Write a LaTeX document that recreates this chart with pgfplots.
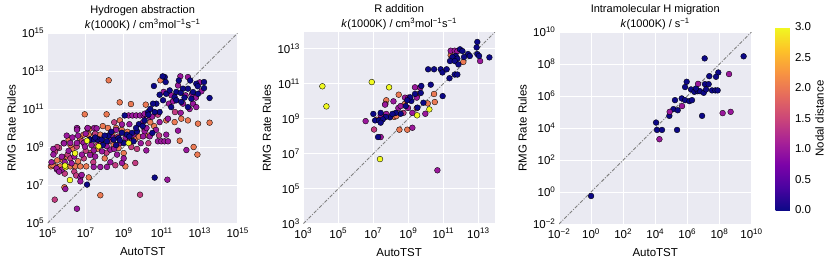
\documentclass[border=0pt]{standalone}
\usepackage{fontspec}
\setmainfont{Liberation Sans}
\usepackage{pgfplots}
\pgfplotsset{compat=1.18}
\definecolor{bg}{HTML}{EAEAF2}
\pgfplotsset{
  colormap={plasma}{rgb255=(13,8,135) rgb255=(75,3,161) rgb255=(125,3,168) rgb255=(168,34,150) rgb255=(203,70,121) rgb255=(229,107,93) rgb255=(248,148,65) rgb255=(253,195,40) rgb255=(240,249,33)},
  rmg/.style={
    scale only axis, anchor=south west,
    axis background/.style={fill=bg},
    grid=major, grid style={white, line width=1pt},
    axis line style={draw=none}, tick style={draw=none},
    every tick label/.append style={font=\fontsize{11.5}{13}\selectfont},
    xticklabel style={yshift=-1pt},
    title style={font=\fontsize{11}{15.5}\selectfont, align=center, at={(axis description cs:0.5,1)}, anchor=center, yshift=9pt},
    xlabel=AutoTST, ylabel=RMG Rate Rules,
    every axis y label/.style={at={(axis description cs:-0.19,0.5)}, rotate=90, anchor=center, font=\fontsize{11.5}{13}\selectfont},
    every axis x label/.style={at={(axis description cs:0.5,-0.15)}, anchor=center, font=\fontsize{11.5}{13}\selectfont},
    colormap name=plasma, point meta min=0, point meta max=3,
  },
  diag/.style={color=black!50, line width=0.9pt, dash pattern=on 3.5pt off 1.5pt on 1pt off 1.5pt, forget plot},
  pts/.style={scatter, only marks, mark=*, mark size=2.9pt, line width=0.35pt, point meta=explicit, scatter/use mapped color={draw=black, fill=mapped color}},
}
\begin{document}
\begin{tikzpicture}
% ---------------- Panel 1 ----------------
\begin{axis}[rmg, at={(47.7pt,40pt)}, width=190pt, height=190pt,
  xmin=5, xmax=15, ymin=5, ymax=15,
  xtick={5,7,...,15}, ytick={5,7,...,15},
  xticklabels={10\textsuperscript{5},10\textsuperscript{7},10\textsuperscript{9},10\textsuperscript{11},10\textsuperscript{13},10\textsuperscript{15}},
  yticklabels={10\textsuperscript{5},10\textsuperscript{7},10\textsuperscript{9},10\textsuperscript{11},10\textsuperscript{13},10\textsuperscript{15}},
  title={Hydrogen abstraction\\\textit{k}(1000K) / cm\textsuperscript{3}mol\textsuperscript{−1}s\textsuperscript{−1}}]
\addplot[diag] coordinates {(5,5) (15,15)};
\addplot[pts] table[meta=c] {
x y c
8.21 12.51 2
8.79 11.35 2
9.38 11.26 2
6.95 10.72 2
8.10 10.72 2
8.17 10.00 2
8.60 10.00 2
10.93 12.51 2
10.16 11.23 2
11.24 10.40 2
11.68 10.31 2
12.03 10.49 2
12.38 10.40 2
12.91 10.23 2
13.52 10.28 2
11.95 9.33 2
12.68 9.00 2
12.88 8.60 2
5.17 7.98 2
5.40 7.98 2
5.66 7.98 2
5.93 7.98 2
6.19 7.98 2
6.45 7.98 2
6.72 7.98 2
7.03 7.98 2
6.89 9.65 2
7.15 9.65 2
7.45 9.65 2
7.77 9.65 2
7.77 9.21 2
8.47 9.12 2
8.73 8.95 2
9.00 8.68 2
9.09 7.98 2
7.16 7.40 2
5.88 6.88 2
7.77 6.46 2
6.30 8.90 2
6.70 9.45 2
8.30 9.70 2
8.90 9.90 2
9.60 9.40 2
10.30 9.60 2
7.30 8.70 2
6.00 8.50 2
5.50 8.30 2
8.00 8.40 2
9.20 9.80 2
10.60 10.10 2
7.90 10.10 2
6.20 9.10 2
5.25 8.05 2
5.80 8.30 2
6.60 8.25 2
7.60 8.90 2
8.40 9.70 2
9.80 9.55 2
10.40 10.30 2
6.10 9.40 2
7.20 9.95 2
8.80 10.40 2
5.84 9.21 1.4
5.39 8.75 1.4
6.53 9.02 1.4
7.09 9.98 1.4
6.56 9.98 1.4
9.61 8.16 1.4
8.56 8.04 1.4
10.86 9.61 1.4
10.80 10.70 1.4
5.37 6.23 1.4
9.86 6.49 1.4
6.05 8.60 1.4
6.90 8.40 1.4
7.60 9.10 1.4
8.20 9.30 1.4
8.70 9.55 1.4
9.40 9.00 1.4
10.10 9.90 1.4
7.40 8.20 1.4
6.40 7.70 1.4
11.70 10.84 1.4
8.50 10.30 1.4
5.60 8.95 1.4
7.00 8.80 1.4
6.50 7.50 1.4
5.50 9.00 1.4
6.20 8.40 1.4
6.80 9.30 1.4
7.50 9.70 1.4
8.10 8.70 1.4
9.20 9.40 1.4
9.70 8.90 1.4
10.30 9.20 1.4
5.90 7.60 1.4
6.54 10.00 1
7.10 10.00 1
7.45 10.00 1
8.91 10.19 1
9.26 10.66 1
9.46 10.66 1
9.66 10.66 1
9.86 10.66 1
10.05 10.66 1
11.98 12.72 1
12.38 12.68 1
13.09 11.93 1
11.86 12.24 1
11.51 11.72 1
12.26 11.72 1
12.12 11.28 1
12.65 11.28 1
12.82 11.10 1
12.47 11.00 1
11.38 11.28 1
10.10 10.75 1
10.37 10.58 1
11.33 10.49 1
10.89 10.31 1
10.02 10.31 1
6.54 9.91 1
6.19 9.21 1
6.54 9.21 1
6.89 9.21 1
7.42 8.82 1
7.86 8.77 1
8.30 8.86 1
8.65 8.60 1
8.91 8.16 1
5.49 7.81 1
5.75 7.81 1
7.42 7.95 1
7.77 7.95 1
8.12 7.95 1
6.72 7.40 1
6.72 7.19 1
5.93 6.79 1
6.54 5.75 1
10.10 9.82 1
10.02 9.56 1
10.37 9.56 1
11.24 9.65 1
11.86 9.86 1
10.80 9.30 1
10.98 9.30 1
11.15 9.30 1
11.33 9.30 1
10.19 8.82 1
12.30 8.84 1
11.30 7.28 1
5.86 9.19 1
5.74 8.49 1
5.47 7.88 1
6.26 8.14 1
6.96 9.02 1
7.58 9.98 1
7.23 8.58 1
6.79 7.53 1
5.30 8.60 1
5.20 8.20 1
6.10 8.80 1
6.80 8.60 1
7.20 9.40 1
7.70 9.40 1
8.10 9.05 1
8.40 9.50 1
8.80 9.20 1
9.10 9.50 1
9.50 9.65 1
9.90 9.20 1
10.20 10.00 1
6.30 9.50 1
7.00 9.70 1
8.60 9.90 1
9.30 10.20 1
12.00 10.80 1
12.60 11.80 1
11.10 11.90 1
13.00 12.40 1
5.60 7.70 1
8.30 8.20 1
9.00 8.40 1
7.50 8.50 1
6.00 9.60 1
5.30 8.90 1
5.90 8.20 1
6.40 8.50 1
6.60 9.60 1
7.30 9.10 1
7.80 9.30 1
8.50 8.90 1
9.40 9.30 1
10.50 10.60 1
10.70 9.90 1
11.60 11.40 1
12.80 11.60 1
9.05 10.66 0
11.16 12.68 0
10.59 12.21 0
11.21 12.42 0
13.23 12.42 0
12.82 12.33 0
10.89 11.75 0
11.24 11.80 0
11.42 11.98 0
11.77 11.90 0
12.12 12.07 0
12.38 12.07 0
12.65 11.89 0
12.91 11.80 0
13.23 12.10 0
13.52 11.58 0
11.68 11.63 0
11.07 11.46 0
10.72 11.28 0
10.54 11.28 0
11.77 11.46 0
12.03 11.37 0
12.56 11.54 0
12.38 11.10 0
10.89 10.84 0
10.63 10.84 0
10.28 10.84 0
11.05 12.72 0
7.24 9.39 0
7.44 9.39 0
7.64 9.39 0
7.84 9.39 0
8.12 9.30 0
8.47 9.39 0
8.73 9.47 0
9.00 9.21 0
9.17 9.65 0
9.44 9.74 0
9.70 9.82 0
9.52 9.30 0
10.51 9.74 0
7.07 7.02 0
10.63 7.39 0
8.20 9.60 0
8.90 9.75 0
9.80 10.20 0
10.10 10.40 0
8.60 9.10 0
9.30 9.55 0
10.40 11.00 0
11.50 11.10 0
12.20 11.60 0
12.90 12.20 0
11.90 12.50 0
7.90 9.10 0
7.50 9.50 0
8.00 9.60 0
8.35 9.80 0
8.80 9.35 0
9.65 10.00 0
10.00 10.10 0
10.30 10.70 0
12.50 12.50 0
12.00 11.85 0
7.07 9.33 3
7.68 9.04 3
9.26 9.21 3
6.44 8.67 3
5.93 7.93 3
6.17 7.26 3
5.91 8.02 3
};
\end{axis}
% ---------------- Panel 2 ----------------
\begin{axis}[rmg, at={(303.3pt,39.3pt)}, width=191.7pt, height=191.7pt,
  xmin=3, xmax=13.95, ymin=3, ymax=13.95,
  xtick={3,5,...,13}, ytick={3,5,...,13},
  xticklabels={10\textsuperscript{3},10\textsuperscript{5},10\textsuperscript{7},10\textsuperscript{9},10\textsuperscript{11},10\textsuperscript{13}},
  yticklabels={10\textsuperscript{3},10\textsuperscript{5},10\textsuperscript{7},10\textsuperscript{9},10\textsuperscript{11},10\textsuperscript{13}},
  title={R addition\\\textit{k}(1000K) / cm\textsuperscript{3}mol\textsuperscript{−1}s\textsuperscript{−1}}]
\addplot[diag] coordinates {(3,3) (13.95,13.95)};
\addplot[pts] table[meta=c] {
x y c
8.45 10.37 2
9.54 10.39 2
10.47 10.41 2
10.51 9.95 2
7.74 10.05 2
7.69 9.84 2
8.79 9.84 2
7.19 8.94 2
8.20 9.10 2
8.32 9.15 2
8.94 8.37 2
8.49 8.37 2
10.11 9.87 2
11.42 12.62 2
12.14 12.24 2
9.48 9.60 2
10.66 6.05 1
13.10 12.29 1
6.56 8.86 1
7.42 7.95 1
9.23 8.48 1
9.97 9.28 1
9.38 10.79 1
9.67 10.77 1
9.48 10.20 1
8.81 10.20 1
9.00 10.20 1
7.67 9.80 1
8.15 9.99 1
8.43 9.61 1
7.42 9.19 1
7.74 9.27 1
8.98 9.61 1
9.23 9.33 1
8.56 9.72 1
11.42 12.88 1
11.65 12.88 1
11.80 12.85 1
7.04 8.38 1.4
8.72 9.33 1.4
12.94 13.38 0
12.90 13.07 0
11.95 12.96 0
12.09 12.86 0
12.41 12.69 0
12.51 12.58 0
11.71 12.58 0
11.52 12.52 0
11.80 12.43 0
12.18 12.52 0
11.38 12.29 0
11.65 12.29 0
11.86 12.10 0
12.94 12.69 0
13.04 12.58 0
13.63 12.50 0
10.13 11.82 0
10.47 11.82 0
10.85 11.82 0
10.95 11.64 0
11.19 11.82 0
11.35 11.31 0
11.65 11.52 0
11.80 11.52 0
10.28 10.94 0
9.74 10.87 0
9.38 10.41 0
9.71 10.47 0
10.96 10.29 0
9.17 10.01 0
9.10 10.22 0
8.94 10.05 0
8.85 9.72 0
8.56 9.28 0
8.28 9.33 0
7.95 9.08 0
8.09 9.27 0
7.71 9.10 0
7.42 9.33 0
7.00 9.27 0
7.10 8.90 0
7.33 8.90 0
7.54 8.96 0
7.42 8.77 0
9.52 9.63 0
9.86 9.91 0
7.27 7.95 0
4.09 10.85 3
4.32 9.70 3
6.91 11.09 3
7.90 10.79 3
10.20 9.53 3
9.50 9.19 3
7.38 6.69 3
};
\end{axis}
% ---------------- Panel 3 ----------------
\begin{axis}[rmg, at={(559pt,39pt)}, width=192.5pt, height=192pt,
  xmin=-2, xmax=10, ymin=-2, ymax=10,
  xtick={-2,0,...,10}, ytick={-2,0,...,10},
  xticklabels={10\textsuperscript{−2},10\textsuperscript{0},10\textsuperscript{2},10\textsuperscript{4},10\textsuperscript{6},10\textsuperscript{8},10\textsuperscript{10}},
  yticklabels={10\textsuperscript{−2},10\textsuperscript{0},10\textsuperscript{2},10\textsuperscript{4},10\textsuperscript{6},10\textsuperscript{8},10\textsuperscript{10}},
  title={Intramolecular H migration\\\textit{k}(1000K) / s\textsuperscript{−1}},
  colorbar,
  colorbar style={at={(parent axis.south east)}, anchor=south west, xshift=15.5pt, yshift=14pt,
    scale only axis, width=16pt, height=183pt,
    ytick={0,0.5,...,3}, yticklabels={0.0,0.5,1.0,1.5,2.0,2.5,3.0},
    axis line style={draw=none}, tick style={draw=none},
    every tick label/.append style={font=\fontsize{11.5}{13}\selectfont},
    ylabel={Nodal distance},
    every axis y label/.style={at={(axis description cs:2.75,0.5)}, rotate=90, anchor=center, font=\fontsize{11.5}{13}\selectfont}}]
\addplot[diag] coordinates {(-2,-2) (10,10)};
\addplot[pts] table[meta=c] {
x y c
0.00 -0.25 0
7.08 8.35 0
9.51 8.48 0
7.93 7.47 0
7.79 7.20 0
7.37 7.24 0
7.10 6.74 0
7.33 6.74 0
5.96 6.89 0
5.86 6.56 0
6.23 6.41 0
6.44 6.26 0
6.65 6.30 0
6.79 6.30 0
7.02 6.20 0
7.17 6.41 0
7.54 6.35 0
7.75 6.35 0
7.89 6.35 0
6.54 6.47 0
5.65 5.85 0
5.23 5.74 0
5.86 5.74 0
6.13 5.68 0
6.29 5.74 0
5.13 5.18 0
5.40 5.11 0
4.88 4.76 0
6.92 4.76 0
4.05 4.34 0
4.11 3.88 0
4.42 3.88 0
5.36 3.88 0
8.60 7.37 1
6.67 6.76 1
5.67 5.37 1
4.90 5.01 1
8.20 4.93 1
8.70 5.01 1
4.26 3.30 1
};
\end{axis}
\pgfresetboundingbox
\path (0,0) rectangle (831pt,263pt);
\end{tikzpicture}
\end{document}
